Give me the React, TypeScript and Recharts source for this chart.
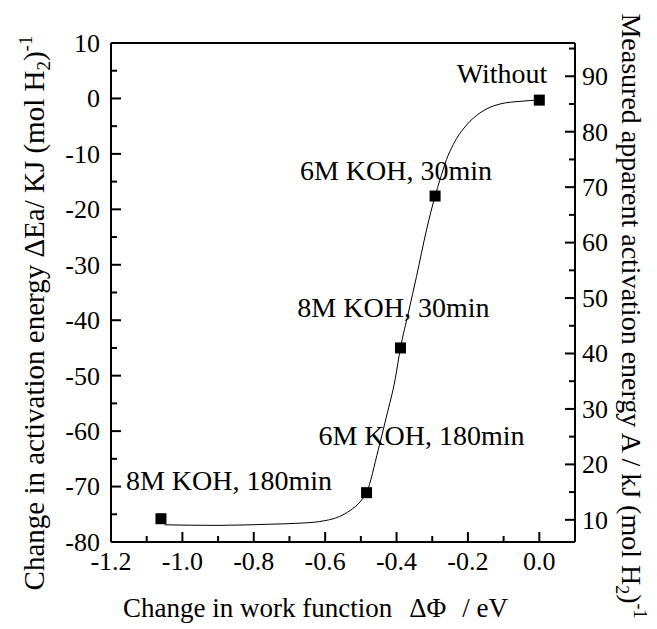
import { ComposedChart, Line, Scatter, XAxis, YAxis, Label } from 'recharts';

// fitted curve
const curveX = [-1.05, -0.9, -0.76, -0.67, -0.615, -0.56, -0.53, -0.5, -0.484, -0.451, -0.428, -0.404, -0.389, -0.367, -0.344, -0.316, -0.292, -0.278, -0.26, -0.241, -0.204, -0.166, -0.11, -0.05, 0.0];
const curveY = [-76.9, -77.0, -76.8, -76.6, -76.3, -75.4, -74.3, -72.6, -71.1, -63.3, -57.3, -50.7, -45.0, -38.7, -32.1, -23.7, -17.6, -14.6, -11.0, -8.3, -4.8, -2.6, -1.0, -0.5, -0.3];

// measured samples
const sampleX = [-1.06, -0.484, -0.389, -0.292, 0.0];
const sampleY = [-75.8, -71.1, -45.0, -17.6, -0.3];
const sampleNames = ['8M KOH, 180min', '6M KOH, 180min', '8M KOH, 30min', '6M KOH, 30min', 'Without'];

const xTicks = [-1.2, -1.1, -1.0, -0.9, -0.8, -0.7, -0.6, -0.5, -0.4, -0.3, -0.2, -0.1, 0.0, 0.1];
const leftTicks = [10, 5, 0, -5, -10, -15, -20, -25, -30, -35, -40, -45, -50, -55, -60, -65, -70, -75, -80];
const rightTicks = [10, 15, 20, 25, 30, 35, 40, 45, 50, 55, 60, 65, 70, 75, 80, 85, 90, 95];

const curve = curveX.map((x, i) => ({ x, y: curveY[i] }));
const samples = sampleX.map((x, i) => ({ x, y: sampleY[i], name: sampleNames[i] }));

const FONT = '"Liberation Serif", "Times New Roman", serif';

// where each annotation sits relative to its point
const LABEL_POS: Record<string, { dx: number; dy: number; anchor: 'start' | 'end' }> = {
  'Without': { dx: 8, dy: -17, anchor: 'end' },
  '6M KOH, 30min': { dx: 57, dy: -16, anchor: 'end' },
  '8M KOH, 30min': { dx: 89, dy: -31, anchor: 'end' },
  '6M KOH, 180min': { dx: 158, dy: -48, anchor: 'end' },
  '8M KOH, 180min': { dx: -35, dy: -29, anchor: 'start' },
};

const isMajorX = (v: number) => Math.round(v * 10) % 2 === 0;

const BottomTick = (props: any) => {
  const { x, y, payload } = props;
  const v = payload.value;
  const major = isMajorX(v);
  return (
    <g>
      <line x1={x} x2={x} y1={y} y2={y - (major ? 10 : 6)} stroke="#000" strokeWidth={2} />
      {major && v <= 0.001 && (
        <text x={x} y={y + 28} textAnchor="middle" fontSize={26} fontFamily={FONT} fill="#000">
          {v.toFixed(1)}
        </text>
      )}
    </g>
  );
};

const TopTick = (props: any) => {
  const { x, y, payload } = props;
  const major = isMajorX(payload.value);
  return <line x1={x} x2={x} y1={y} y2={y + (major ? 10 : 6)} stroke="#000" strokeWidth={2} />;
};

const LeftTick = (props: any) => {
  const { x, y, payload } = props;
  const v = payload.value;
  const major = v % 10 === 0;
  return (
    <g>
      <line x1={x} x2={x + (major ? 10 : 6)} y1={y} y2={y} stroke="#000" strokeWidth={2} />
      {major && (
        <text x={x - 11} y={y} dy="0.34em" textAnchor="end" fontSize={26} fontFamily={FONT} fill="#000">
          {v}
        </text>
      )}
    </g>
  );
};

const RightTick = (props: any) => {
  const { x, y, payload } = props;
  const v = payload.value;
  const major = v % 10 === 0;
  return (
    <g>
      <line x1={x} x2={x - (major ? 10 : 6)} y1={y} y2={y} stroke="#000" strokeWidth={2} />
      {major && (
        <text x={x + 7} y={y} dy="0.34em" textAnchor="start" fontSize={26} fontFamily={FONT} fill="#000">
          {v}
        </text>
      )}
    </g>
  );
};

const SquarePoint = (props: any) => {
  const { cx, cy, payload } = props;
  const pos = LABEL_POS[payload.name];
  return (
    <g>
      <rect x={cx - 5.5} y={cy - 5.5} width={11} height={11} fill="#000" />
      {pos && (
        <text x={cx + pos.dx} y={cy + pos.dy} textAnchor={pos.anchor} fontSize={28} fontFamily={FONT} fill="#000">
          {payload.name}
        </text>
      )}
    </g>
  );
};

const axisLine = { stroke: '#000', strokeWidth: 2 };

export default function App() {
  return (
    <div style={{ position: 'absolute', left: 0, top: 0, background: '#fff' }}>
      <ComposedChart width={657} height={629} margin={{ top: 0, right: 0, bottom: 0, left: 0 }}>
        <XAxis
          xAxisId="b"
          dataKey="x"
          type="number"
          domain={[-1.2, 0.1]}
          ticks={xTicks}
          height={87}
          axisLine={axisLine}
          tickLine={false}
          tickSize={0}
          tickMargin={0}
          tick={<BottomTick />}
          interval={0}
          allowDataOverflow
        >
          <Label
            content={() => (
              <text x={123} y={617} fontSize={27} fontFamily={FONT} fill="#000">
                Change in work function
                <tspan dx={17}>ΔΦ</tspan>
                <tspan dx={16}>/ eV</tspan>
              </text>
            )}
          />
        </XAxis>
        <XAxis
          xAxisId="t"
          orientation="top"
          type="number"
          domain={[-1.2, 0.1]}
          ticks={xTicks}
          height={43}
          axisLine={axisLine}
          tickLine={false}
          tickSize={0}
          tickMargin={0}
          tick={<TopTick />}
          interval={0}
          allowDataOverflow
        />
        <YAxis
          yAxisId="left"
          dataKey="y"
          type="number"
          domain={[-80, 10]}
          ticks={leftTicks}
          width={111}
          axisLine={axisLine}
          tickLine={false}
          tickSize={0}
          tickMargin={0}
          tick={<LeftTick />}
          interval={0}
          allowDataOverflow
        >
          <Label
            content={() => (
              <text transform="rotate(-90)" x={-313} y={44} textAnchor="middle" fontSize={29} fontFamily={FONT} fill="#000">
                Change in activation energy ΔEa/ KJ (mol H
                <tspan dy={6} fontSize={19}>2</tspan>
                <tspan dy={-6}>)</tspan>
                <tspan dy={-12} fontSize={19}>-1</tspan>
              </text>
            )}
          />
        </YAxis>
        <YAxis
          yAxisId="right"
          orientation="right"
          type="number"
          domain={[6, 96]}
          ticks={rightTicks}
          width={82}
          axisLine={axisLine}
          tickLine={false}
          tickSize={0}
          tickMargin={0}
          tick={<RightTick />}
          interval={0}
          allowDataOverflow
        >
          <Label
            content={() => (
              <text transform="rotate(90)" x={316} y={-622} textAnchor="middle" fontSize={28} fontFamily={FONT} fill="#000">
                Measured apparent activation energy A / kJ (mol H
                <tspan dy={6} fontSize={18}>2</tspan>
                <tspan dy={-6}>)</tspan>
                <tspan dy={-12} fontSize={18}>-1</tspan>
              </text>
            )}
          />
        </YAxis>
        <Line
          xAxisId="b"
          yAxisId="left"
          data={curve}
          dataKey="y"
          type="monotone"
          dot={false}
          activeDot={false}
          stroke="#000"
          strokeWidth={1}
          isAnimationActive={false}
        />
        <Scatter
          xAxisId="b"
          yAxisId="left"
          data={samples}
          dataKey="y"
          shape={<SquarePoint />}
          isAnimationActive={false}
        />
      </ComposedChart>
    </div>
  );
}
